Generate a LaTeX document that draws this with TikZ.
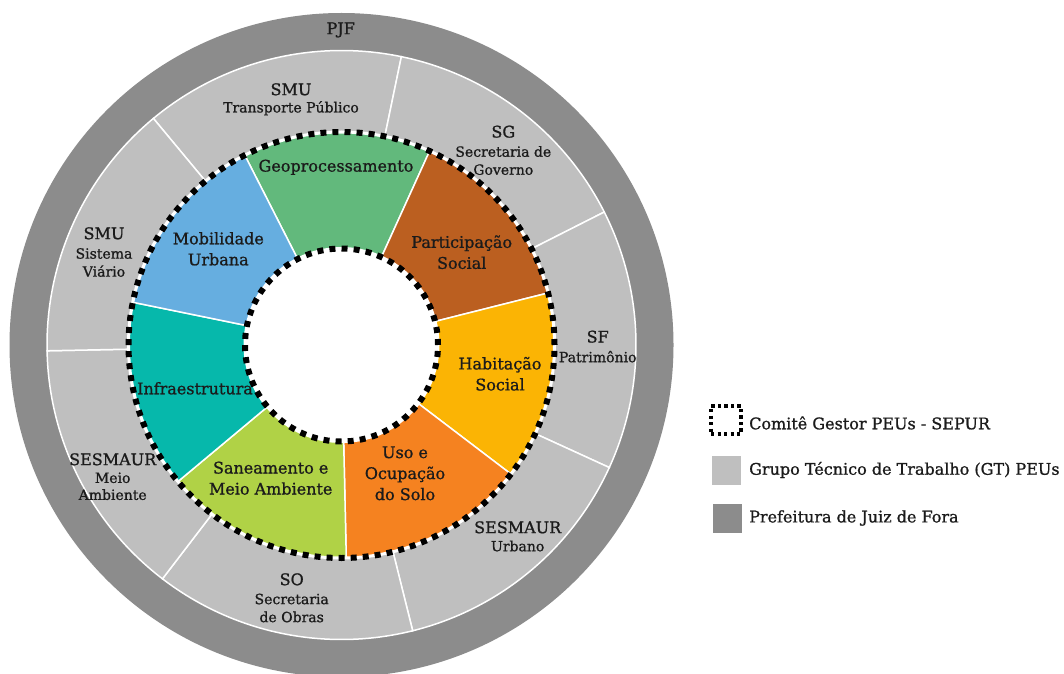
\documentclass[tikz,border=0pt]{standalone}
\usepackage{fontspec}
\setmainfont{DejaVu Serif}[FakeBold=1]
\definecolor{ringdark}{HTML}{8C8C8C}
\definecolor{ringlight}{HTML}{BFBFBF}
\definecolor{cgeo}{HTML}{62B97C}
\definecolor{cpart}{HTML}{BB5F20}
\definecolor{chab}{HTML}{FBB404}
\definecolor{cuso}{HTML}{F58220}
\definecolor{csan}{HTML}{B0D246}
\definecolor{cinfra}{HTML}{06B8AB}
\definecolor{cmob}{HTML}{66AEE0}
\definecolor{txt}{HTML}{1B1B1B}
\begin{document}
\begin{tikzpicture}[x=1pt,y=1pt,
  inlab/.style={font=\fontsize{16}{21}\selectfont, align=center, text=txt, inner sep=0pt},
  orgtitle/.style={font=\fontsize{16}{19}\selectfont, text=txt, inner sep=0pt},
  orgsub/.style={font=\fontsize{14}{18}\selectfont, align=center, text=txt, inner sep=0pt},
  legtext/.style={font=\fontsize{16}{19}\selectfont, anchor=west, text=txt, inner sep=0pt},
  sepline/.style={draw=white, line width=1.5pt},
  dotring/.style={draw=black, line width=6pt},
  legbox/.style={minimum width=29pt, minimum height=29pt, inner sep=0pt}
]
\useasboundingbox (0,0) rectangle (1064,673);
\fill[white] (0,0) rectangle (1064,673);

\begin{scope}[shift={(341.5,328)}]
  % municipal ring
  \fill[ringdark] (0,0) circle[radius=332];
  % working group sectors
  \foreach \i in {0,...,6}{
    \pgfmathsetmacro\aa{129.7-51.4286*\i}
    \pgfmathsetmacro\ab{\aa-51.4286}
    \fill[ringlight, sepline] (\aa:213) arc[start angle=\aa, end angle=\ab, radius=213]
      -- (\ab:294.5) arc[start angle=\ab, end angle=\aa, radius=294.5] -- cycle;
  }
  % committee themes
  \foreach \i/\col in {0/cgeo,1/cpart,2/chab,3/cuso,4/csan,5/cinfra,6/cmob}{
    \pgfmathsetmacro\aa{117-51.4286*\i}
    \pgfmathsetmacro\ab{\aa-51.4286}
    \fill[\col, sepline] (\aa:96.5) arc[start angle=\aa, end angle=\ab, radius=96.5]
      -- (\ab:213) arc[start angle=\ab, end angle=\aa, radius=213] -- cycle;
  }
  \fill[white] (0,0) circle[radius=96.5];
  % dotted committee borders
  \draw[white, line width=3pt] (0,0) circle[radius=213];
  \draw[dotring, dash pattern=on 6pt off 6.06pt] (0,0) circle[radius=213];
  \draw[white, line width=3pt] (0,0) circle[radius=96.5];
  \draw[dotring, dash pattern=on 6pt off 6.13pt] (0,0) circle[radius=96.5];
\end{scope}

% theme labels
\node[inlab] (geo) at (336,505.7) {Geoprocessamento};
\node[inlab] (mob) at (218.3,424.2) {Mobilidade\\Urbana};
\node[inlab] (part) at (461.7,420.8) {Participação\\Social};
\node[inlab] (hab) at (500,299.2) {Habitação\\Social};
\node[inlab] (uso) at (405,199.7) {Uso e\\Ocupação\\do Solo};
\node[inlab] (san) at (270.7,194.8) {Saneamento e\\Meio Ambiente};
\node[inlab] (infra) at (195,284.7) {Infraestrutura};

% secretariat labels
\node[orgtitle] (pjf) at (340.7,643) {PJF};
\node[orgtitle] (smutp) at (291,583.7) {SMU};
\node[orgsub] (smutp-s) at (291,564.7) {Transporte Público};
\node[orgtitle] (sg) at (503.3,541.3) {SG};
\node[orgsub] (sg-s) at (503.3,512.5) {Secretaria de\\Governo};
\node[orgtitle] (sf) at (597.7,336.3) {SF};
\node[orgsub] (sf-s) at (597.7,316.3) {Patrimônio};
\node[orgtitle] (sesu) at (517.7,145.7) {SESMAUR};
\node[orgsub] (sesu-s) at (517.7,127) {Urbano};
\node[orgtitle] (so) at (291.7,93.7) {SO};
\node[orgsub] (so-s) at (291.7,65) {Secretaria\\de Obras};
\node[orgtitle] (sesma) at (112.7,213.7) {SESMAUR};
\node[orgsub, font=\fontsize{14}{17}\selectfont] (sesma-s) at (112.7,186.7) {Meio\\Ambiente};
\node[orgtitle] (smusv) at (104,439.7) {SMU};
\node[orgsub] (smusv-s) at (104,410.5) {Sistema\\Viário};

% legend
\node[legbox, minimum width=30pt, minimum height=28pt, draw=black, line width=3.3pt, dash pattern=on 3.3pt off 3.2pt] (k1) at (726,253) {};
\node[legbox, fill=ringlight] (k2) at (726.5,202.5) {};
\node[legbox, fill=ringdark] (k3) at (727.5,154.5) {};
\node[legtext] (t1) at (749,250) {Comitê Gestor PEUs - SEPUR};
\node[legtext] (t2) at (749,203) {Grupo Técnico de Trabalho (GT) PEUs};
\node[legtext] (t3) at (749,155) {Prefeitura de Juiz de Fora};
\end{tikzpicture}
\end{document}
